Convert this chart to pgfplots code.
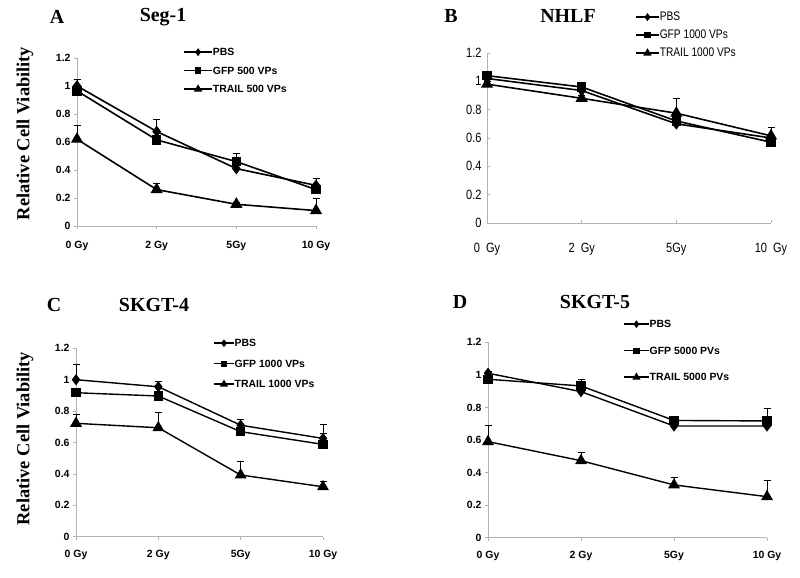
\documentclass[border=0pt]{standalone}
\usepackage{fontspec}
\setmainfont{Liberation Serif}
\setsansfont{Liberation Sans}
\newfontfamily\narrowsans[FakeStretch=0.82]{Liberation Sans}
\usepackage{pgfplots}
\pgfplotsset{compat=1.18}
\pgfplotsset{
  panel/.style={scale only axis, anchor=south west, clip=false,
    xmin=0, xmax=3, ymin=0, ymax=1.2,
    axis x line=bottom, axis y line=left,
    axis line style={-, gray!60, line width=0.8bp},
    xtick={0,1,2,3}, ytick={0,0.2,0.4,0.6,0.8,1,1.2},
    yticklabels={0,0.2,0.4,0.6,0.8,1,1.2},
    xticklabels={0 Gy,2 Gy,5Gy,10 Gy},
    tick style={gray!60, line width=0.6bp}, major tick length=3bp, tick align=outside,
    every tick label/.append style={font=\sffamily\bfseries\fontsize{10.5}{12}\selectfont},
    /pgf/number format/assume math mode=true,
    every axis plot/.append style={black, line width=1.6bp, mark options={solid}},
    legend style={draw=none, fill=none, inner sep=0pt, anchor=north west,
      font=\sffamily\bfseries\fontsize{10.5}{12}\selectfont, cells={anchor=west},
      nodes={inner sep=0pt, text height=7.5bp, text depth=0pt}},
    legend image code/.code={\draw[mark repeat=2,mark phase=2, every mark/.append style={scale=0.6}] plot coordinates {(0bp,0bp)(14bp,0bp)(28bp,0bp)};},
  },
  ebar/.style={error bars/y dir=plus, error bars/y explicit,
    error bars/error bar style={line width=0.7bp, solid},
    error bars/error mark options={rotate=90, mark size=3.5bp, line width=0.7bp}},
  pbs/.style={ebar, mark=diamond*, mark size=4.5bp},
  gfp/.style={ebar, mark=square*, mark size=4bp},
  trail/.style={ebar, mark=triangle*, mark size=5.5bp},
}
\begin{document}
\begin{tikzpicture}[x=1bp,y=1bp]
\useasboundingbox (0,0) rectangle (800,578);

% ---------- A ----------
\begin{axis}[panel, at={(77bp,352bp)}, width=239bp, height=168bp,
  xticklabel style={yshift=-9bp},
  legend style={at={(axis description cs:0.444,1.058)}, row sep=11bp}]
\addplot[pbs] coordinates {(0,1.00) +- (0,0.045) (1,0.675) +- (0,0.085) (2,0.41) +- (0,0.03) (3,0.29) +- (0,0.05)};
\addlegendentry{PBS}
\addplot[gfp] coordinates {(0,0.965) +- (0,0.03) (1,0.615) +- (0,0.03) (2,0.46) +- (0,0.06) (3,0.26) +- (0,0.08)};
\addlegendentry{GFP 500 VPs}
\addplot[trail] coordinates {(0,0.62) +- (0,0.10) (1,0.26) +- (0,0.045) (2,0.155) +- (0,0.015) (3,0.11) +- (0,0.09)};
\addlegendentry{TRAIL 500 VPs}
\end{axis}

% ---------- B ----------
\begin{axis}[panel, at={(487bp,355bp)}, width=284bp, height=170bp,
  tick align=inside,
  every tick label/.append style={font=\narrowsans\fontsize{13.5}{14}\selectfont},
  yticklabel style={xshift=-2bp},
  xticklabels={0~~Gy,2~~Gy,5Gy,10~~Gy},
  xticklabel style={yshift=-17bp},
  legend style={at={(axis description cs:0.521,1.234)}, row sep=10.5bp,
    font=\narrowsans\fontsize{12.5}{13}\selectfont},
  legend image code/.code={\draw[mark repeat=2,mark phase=2, every mark/.append style={scale=0.6}] plot coordinates {(0bp,0bp)(11.5bp,0bp)(23bp,0bp)};}]
\addplot[pbs] coordinates {(0,1.02) +- (0,0.02) (1,0.935) +- (0,0.02) (2,0.70) +- (0,0.02) (3,0.60) +- (0,0.02)};
\addlegendentry{PBS}
\addplot[gfp] coordinates {(0,1.04) +- (0,0.02) (1,0.96) +- (0,0.02) (2,0.72) +- (0,0.02) (3,0.57) +- (0,0.02)};
\addlegendentry{GFP 1000 VPs}
\addplot[trail] coordinates {(0,0.98) +- (0,0.02) (1,0.88) +- (0,0.02) (2,0.775) +- (0,0.105) (3,0.615) +- (0,0.06)};
\addlegendentry{TRAIL 1000 VPs}
\end{axis}

% ---------- C ----------
\begin{axis}[panel, at={(76bp,41.3bp)}, width=247bp, height=188.4bp,
  xticklabel style={yshift=-7bp},
  every axis plot/.append style={line width=1.4bp},
  legend style={at={(axis description cs:0.555,1.048)}, row sep=13bp},
  legend image code/.code={\draw[mark repeat=2,mark phase=2, every mark/.append style={scale=0.6}] plot coordinates {(0bp,0bp)(10bp,0bp)(20bp,0bp)};}]
\addplot[pbs] coordinates {(0,1.0) +- (0,0.10) (1,0.955) +- (0,0.035) (2,0.71) +- (0,0.04) (3,0.626) +- (0,0.09)};
\addlegendentry{PBS}
\addplot[gfp] coordinates {(0,0.917) +- (0,0.03) (1,0.896) +- (0,0.02) (2,0.669) +- (0,0.02) (3,0.588) +- (0,0.07)};
\addlegendentry{GFP 1000 VPs}
\addplot[trail] coordinates {(0,0.722) +- (0,0.06) (1,0.694) +- (0,0.10) (2,0.393) +- (0,0.09) (3,0.318) +- (0,0.035)};
\addlegendentry{TRAIL 1000 VPs}
\end{axis}

% ---------- D ----------
\begin{axis}[panel, at={(488bp,40.3bp)}, width=279bp, height=195.4bp,
  xticklabel style={yshift=-7bp},
  every axis plot/.append style={line width=1.4bp},
  legend style={at={(axis description cs:0.484,1.113)}, row sep=19bp},
  legend image code/.code={\draw[mark repeat=2,mark phase=2, every mark/.append style={scale=0.6}] plot coordinates {(0bp,0bp)(12.5bp,0bp)(25bp,0bp)};}]
\addplot[pbs] coordinates {(0,1.01) +- (0,0.01) (1,0.897) +- (0,0.02) (2,0.686) +- (0,0.02) (3,0.686) +- (0,0.02)};
\addlegendentry{PBS}
\addplot[gfp] coordinates {(0,0.973) +- (0,0.02) (1,0.932) +- (0,0.04) (2,0.72) +- (0,0.01) (3,0.717) +- (0,0.08)};
\addlegendentry{GFP 5000 PVs}
\addplot[trail] coordinates {(0,0.59) +- (0,0.10) (1,0.473) +- (0,0.05) (2,0.324) +- (0,0.045) (3,0.252) +- (0,0.10)};
\addlegendentry{TRAIL 5000 PVs}
\end{axis}

% ---------- titles and labels ----------
\begin{scope}[every node/.style={font=\bfseries\fontsize{20}{22}\selectfont, inner sep=0pt}]
\node at (57,561) {A};
\node at (163,561) {Seg-1};
\node at (451,562) {B};
\node at (568,562) {NHLF};
\node at (54,273) {C};
\node at (154,273) {SKGT-4};
\node at (460,275.5) {D};
\node at (595,275.5) {SKGT-5};
\node[rotate=90, font=\bfseries\fontsize{18.5}{20}\selectfont] at (25,444.5) {Relative Cell Viability};
\node[rotate=90, font=\bfseries\fontsize{18.5}{20}\selectfont] at (25,139.3) {Relative Cell Viability};
\end{scope}
\end{tikzpicture}
\end{document}
